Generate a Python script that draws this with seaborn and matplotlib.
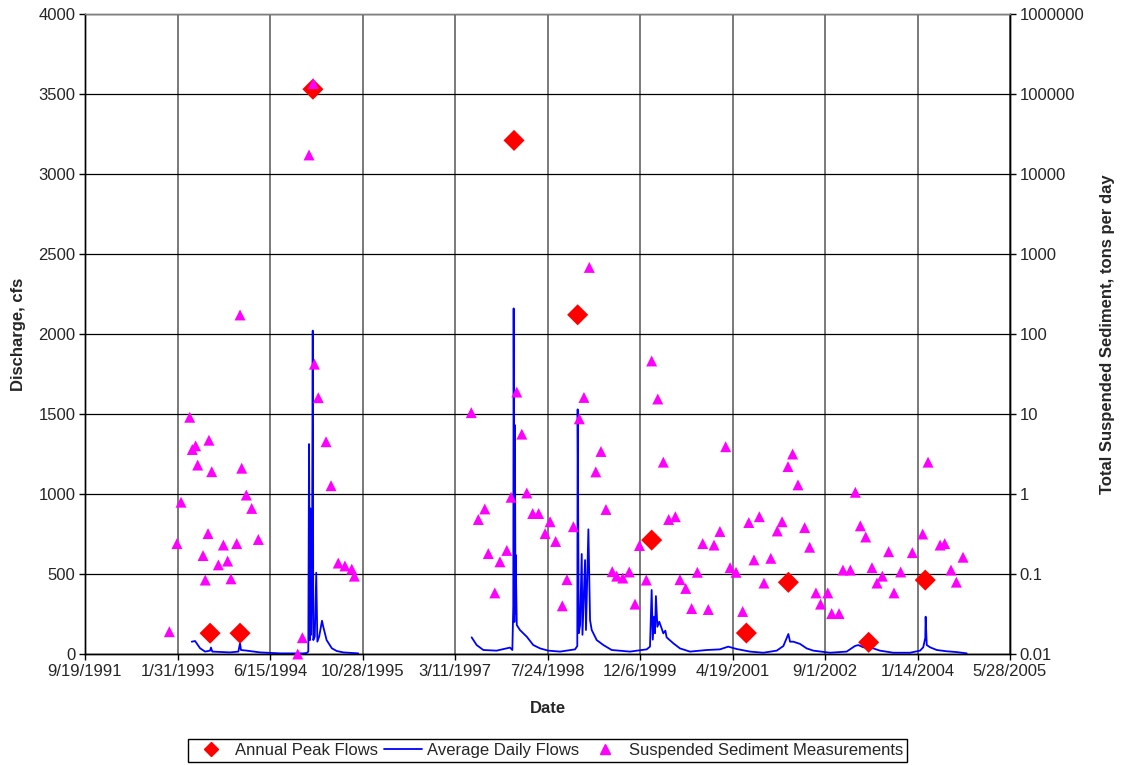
import numpy as np
import pandas as pd
import matplotlib
matplotlib.use("Agg")
import matplotlib.pyplot as plt
from matplotlib.ticker import FixedLocator, FixedFormatter, NullLocator
from matplotlib.lines import Line2D
import seaborn as sns

# ---------------- data (dates as Excel serial day numbers) ----------------
peak_dates = [34176, 34338, 34732, 35819, 36163, 36563, 37075, 37302, 37736, 38042]
peak_cfs = [130, 130, 3530, 3210, 2120, 712, 131, 448, 73, 462]

flow1_dates = [34077, 34095, 34122, 34149, 34176, 34181, 34188, 34284, 34329, 34338,
               34343, 34374, 34446, 34554, 34680, 34698, 34707, 34711, 34716, 34718,
               34722, 34727, 34731, 34734, 34742, 34750, 34756, 34766, 34781, 34788,
               34806, 34834, 34860, 34896, 34977]
flow1_cfs = [77, 81, 36, 15, 21, 40, 15, 10, 15, 67,
             25, 21, 10, 4, 4, 6, 15, 1312, 87, 910,
             120, 500, 2021, 87, 110, 508, 77, 110, 208, 170,
             87, 36, 19, 10, 4]

flow2_dates = [35590, 35617, 35653, 35725, 35797, 35810, 35815, 35817, 35821, 35824,
               35827, 35828, 35834, 35851, 35888, 35923, 35960, 36004, 36068, 36149,
               36161, 36163, 36169, 36176, 36185, 36189, 36203, 36208, 36221, 36230,
               36239, 36266, 36302, 36347, 36446, 36536, 36554, 36563, 36569, 36576,
               36581, 36586, 36594, 36604, 36617, 36626, 36637, 36644, 36680, 36716,
               36770, 36861, 36932, 36977, 37023, 37095, 37167, 37239, 37275, 37302,
               37311, 37329, 37365, 37401, 37437, 37527, 37617, 37662, 37680, 37707,
               37761, 37797, 37869, 37960, 38014, 38031, 38042, 38044, 38050, 38068,
               38104, 38158, 38212, 38266]
flow2_cfs = [104, 56, 25, 21, 40, 25, 296, 2160, 200, 1431,
             250, 619, 181, 150, 108, 56, 35, 21, 15, 29,
             50, 1529, 130, 180, 625, 120, 587, 150, 779, 212,
             150, 87, 56, 25, 15, 29, 46, 400, 90, 233,
             130, 362, 170, 202, 160, 129, 146, 104, 67, 35,
             15, 25, 29, 46, 31, 15, 8, 21, 50, 125,
             77, 77, 63, 35, 21, 8, 15, 50, 56, 42,
             35, 21, 8, 8, 21, 42, 100, 233, 56, 42,
             25, 17, 12, 4]

sed_dates = [33956, 33997, 34019, 34066, 34080, 34098, 34109, 34138, 34150, 34165,
             34170, 34185, 34221, 34248, 34271, 34289, 34320, 34338, 34347, 34372,
             34401, 34437,
             34650, 34675, 34711, 34734, 34740, 34761, 34803, 34830, 34869, 34905,
             34942, 34956,
             35588, 35626, 35661, 35680, 35715, 35743, 35780, 35803, 35834, 35861,
             35888, 35920, 35952, 35987, 36014, 36044, 36080, 36105, 36140, 36172,
             36197, 36226, 36261, 36289, 36316, 36350, 36374, 36407, 36442, 36473,
             36497, 36534, 36563, 36596, 36626, 36655, 36691, 36716, 36747, 36779,
             36810, 36839, 36869, 36900, 36932, 36963, 36987, 37019, 37055, 37088,
             37116, 37145, 37170, 37207, 37242, 37268, 37300, 37325, 37354, 37390,
             37417, 37451, 37476, 37515, 37536, 37576, 37597, 37637, 37664, 37691,
             37720, 37754, 37781, 37810, 37844, 37873, 37909, 37972, 38028, 38057,
             38122, 38147, 38181, 38210, 38246]
sed_tons = [0.019, 0.24, 0.79, 9.1, 3.6, 4.0, 2.3, 0.17, 0.084, 0.32,
            4.7, 1.9, 0.13, 0.23, 0.145, 0.087, 0.24, 173, 2.1, 0.97,
            0.66, 0.27,
            0.01, 0.016, 17300, 135000, 42, 16, 4.5, 1.27, 0.137, 0.126,
            0.115, 0.094,
            10.4, 0.48, 0.65, 0.18, 0.058, 0.142, 0.197, 0.91, 18.8, 5.6,
            1.03, 0.57, 0.57, 0.32, 0.45, 0.255, 0.040, 0.085, 0.39, 8.7,
            16.1, 680, 1.89, 3.4, 0.64, 0.107, 0.094, 0.089, 0.106, 0.042,
            0.227, 0.084, 46, 15.4, 2.5, 0.48, 0.52, 0.085, 0.066, 0.037,
            0.105, 0.24, 0.036, 0.23, 0.34, 3.9, 0.12, 0.105, 0.034, 0.44,
            0.15, 0.52, 0.077, 0.157, 0.345, 0.45, 2.2, 3.16, 1.3, 0.38,
            0.216, 0.058, 0.042, 0.058, 0.032, 0.032, 0.112, 0.112, 1.05, 0.40,
            0.29, 0.12, 0.077, 0.094, 0.19, 0.058, 0.106, 0.185, 0.316, 2.5,
            0.23, 0.24, 0.112, 0.079, 0.162]

x_tick_labels = ["9/19/1991", "1/31/1993", "6/15/1994", "10/28/1995", "3/11/1997",
                 "7/24/1998", "12/6/1999", "4/19/2001", "9/1/2002", "1/14/2004",
                 "5/28/2005"]
discharge_ticks = [0, 500, 1000, 1500, 2000, 2500, 3000, 3500, 4000]
sediment_ticks = [0.01, 0.1, 1, 10, 100, 1000, 10000, 100000, 1000000]
sediment_tick_labels = ["0.01", "0.1", "1", "10", "100", "1000", "10000",
                        "100000", "1000000"]

legend_labels = ["Annual Peak Flows", "Average Daily Flows",
                 "Suspended Sediment Measurements"]

# ---------------- build tables ----------------
def excel_to_dt(serials):
    return pd.to_datetime(np.asarray(serials, dtype=float), unit="D", origin="1899-12-30")

peaks = pd.DataFrame({"date": excel_to_dt(peak_dates), "cfs": peak_cfs})
flows = pd.concat([
    pd.DataFrame({"date": excel_to_dt(flow1_dates), "cfs": flow1_cfs, "seg": 1}),
    pd.DataFrame({"date": excel_to_dt(flow2_dates), "cfs": flow2_cfs, "seg": 2}),
], ignore_index=True)
sed = pd.DataFrame({"date": excel_to_dt(sed_dates), "tons": sed_tons})
xticks = pd.to_datetime(x_tick_labels, format="%m/%d/%Y")

# ---------------- style ----------------
sns.set_style("white")
plt.rcParams["font.family"] = ["Liberation Sans", "DejaVu Sans"]
plt.rcParams["font.size"] = 12

fig = plt.figure(figsize=(11.22, 7.65), dpi=100)
ax = fig.add_axes([85 / 1122, 1 - 654 / 765, 925 / 1122, 640 / 765])

RED = "#FF0000"
BLUE = "#0000FF"
MAGENTA = "#FF00FF"

sns.lineplot(data=flows, x="date", y="cfs", units="seg", estimator=None,
             sort=False, color=BLUE, lw=1.3, ax=ax, legend=False, zorder=3)
sns.scatterplot(data=peaks, x="date", y="cfs", marker="D", s=115, color=RED,
                edgecolor="none", ax=ax, legend=False, zorder=4, clip_on=False)

ax.set_xlim(xticks[0], xticks[-1])
ax.set_ylim(0, 4000)
ax.xaxis.set_major_locator(FixedLocator(matplotlib.dates.date2num(xticks)))
ax.xaxis.set_major_formatter(FixedFormatter(x_tick_labels))
ax.yaxis.set_major_locator(FixedLocator(discharge_ticks))
ax.set_axisbelow(True)
ax.yaxis.grid(True, color="black", lw=0.9)
ax.xaxis.grid(True, color="#707070", lw=1.3)
ax.set_xlabel("Date", fontweight="bold", fontsize=12, labelpad=16)
ax.set_ylabel("Discharge, cfs", fontweight="bold", fontsize=12, labelpad=9)
ax.tick_params(axis="both", direction="out", length=4, width=1, color="black",
               labelsize=12, pad=3, bottom=True, left=True)

ax2 = ax.twinx()
sns.scatterplot(data=sed, x="date", y="tons", marker="^", s=62, color=MAGENTA,
                edgecolor="none", ax=ax2, legend=False, zorder=5, clip_on=False)
ax2.set_yscale("log")
ax2.set_ylim(0.01, 1000000)
ax2.set_xlim(xticks[0], xticks[-1])
ax2.yaxis.set_major_locator(FixedLocator(sediment_ticks))
ax2.yaxis.set_major_formatter(FixedFormatter(sediment_tick_labels))
ax2.yaxis.set_minor_locator(NullLocator())
ax2.set_ylabel("Total Suspended Sediment, tons per day", fontweight="bold",
               fontsize=12, labelpad=11)
ax2.tick_params(axis="y", direction="out", length=4, width=1, color="black",
                labelsize=12, pad=3, right=True)
ax2.grid(False)

for a in (ax, ax2):
    a.spines["top"].set_color("#808080")
    a.spines["left"].set_color("black")
    a.spines["bottom"].set_color("black")
    a.spines["right"].set_color("black")
    for sp in a.spines.values():
        sp.set_linewidth(1.0)

handles = [
    Line2D([], [], marker="D", color=RED, ls="none", markersize=7),
    Line2D([], [], color=BLUE, lw=1.3),
    Line2D([], [], marker="^", color=MAGENTA, ls="none", markersize=7),
]
leg = fig.legend(handles, legend_labels, loc="lower center",
                 bbox_to_anchor=(547.5 / 1122, 0.004), ncol=3, frameon=True,
                 fancybox=False, framealpha=1, edgecolor="black", fontsize=12,
                 handlelength=2.3, handletextpad=0.3, columnspacing=0.35,
                 borderpad=0.25, borderaxespad=0.0)
leg.get_frame().set_linewidth(1.0)

fig.savefig("out.png", dpi=100)
